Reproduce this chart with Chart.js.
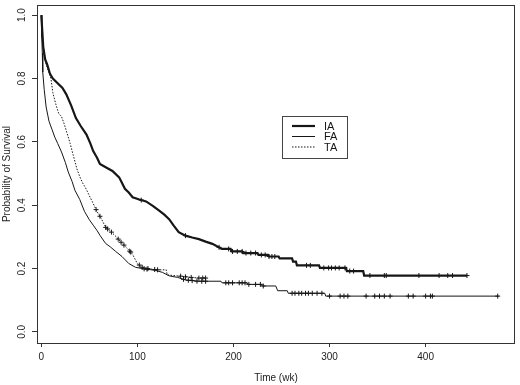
<!DOCTYPE html>
<html>
<head>
<meta charset="utf-8">
<script src="https://cdn.jsdelivr.net/npm/chart.js@4"></script>
<style>
  html, body { margin: 0; padding: 0; background: #fff; }
  canvas { display: block; }
</style>
</head>
<body>
<canvas id="survChart" width="520" height="385"></canvas>
<script>
// Kaplan-Meier curves (time in weeks, survival probability).
// Dense early parts are traced as a polyline; later plateaus are given as flat + drop pairs.
const iaTime = [0, 1, 2, 4, 6, 9, 12, 17, 22, 26, 31, 36, 41, 47, 51, 54, 58, 61, 67, 74, 81, 84, 87, 91, 95, 102, 109, 116, 123, 128, 133, 138, 143, 150, 157, 164, 171, 178, 188, 197, 198, 209, 210, 225, 226, 236, 237, 247, 248, 261, 262, 265, 266, 289, 290, 317, 318, 335, 336, 443];
const iaSurv = [1.0, 0.95, 0.90, 0.86, 0.845, 0.815, 0.80, 0.785, 0.77, 0.75, 0.715, 0.675, 0.65, 0.623, 0.595, 0.571, 0.55, 0.53, 0.52, 0.508, 0.488, 0.47, 0.452, 0.44, 0.425, 0.418, 0.412, 0.398, 0.382, 0.37, 0.356, 0.335, 0.315, 0.304, 0.298, 0.293, 0.285, 0.278, 0.262, 0.262, 0.254, 0.254, 0.249, 0.249, 0.243, 0.243, 0.238, 0.238, 0.232, 0.232, 0.222, 0.222, 0.21, 0.21, 0.202, 0.202, 0.192, 0.192, 0.178, 0.178];
const iaCensorTime = [104, 150, 185, 195, 199, 204, 209, 213, 218, 223, 229, 233, 237, 240, 243, 276, 280, 294, 299, 302, 306, 310, 316, 321, 325, 342, 357, 359, 393, 414, 423, 428, 443];
const iaCensorSurv = [0.416, 0.304, 0.267, 0.262, 0.254, 0.254, 0.254, 0.249, 0.249, 0.249, 0.243, 0.243, 0.238, 0.238, 0.238, 0.21, 0.21, 0.202, 0.202, 0.202, 0.202, 0.202, 0.202, 0.192, 0.192, 0.178, 0.178, 0.178, 0.178, 0.178, 0.178, 0.178, 0.178];

const faTime = [0, 0.5, 1, 1.5, 3, 5, 8, 11, 14, 17, 21, 25, 28, 32, 35, 40, 45, 50, 54, 58, 61, 67, 72, 77, 84, 91, 98, 105, 119, 126, 133, 142, 150, 164, 187, 188, 214, 215, 229, 230, 244, 246, 256, 257, 295, 296, 476];
const faSurv = [1.0, 0.93, 0.88, 0.82, 0.765, 0.71, 0.665, 0.64, 0.615, 0.595, 0.568, 0.535, 0.505, 0.475, 0.447, 0.418, 0.38, 0.354, 0.337, 0.32, 0.305, 0.279, 0.268, 0.255, 0.238, 0.216, 0.204, 0.20, 0.194, 0.188, 0.177, 0.172, 0.164, 0.160, 0.160, 0.155, 0.155, 0.150, 0.150, 0.145, 0.145, 0.13, 0.13, 0.122, 0.122, 0.113, 0.113];
const faCensorTime = [107, 110, 148, 153, 157, 162, 167, 171, 192, 195, 199, 206, 209, 212, 216, 223, 228, 231, 261, 264, 268, 271, 275, 278, 282, 287, 292, 300, 311, 315, 319, 338, 347, 352, 357, 363, 382, 387, 400, 405, 407, 475];
const faCensorSurv = [0.199, 0.198, 0.166, 0.163, 0.162, 0.160, 0.160, 0.160, 0.155, 0.155, 0.155, 0.155, 0.155, 0.155, 0.150, 0.150, 0.150, 0.145, 0.122, 0.122, 0.122, 0.122, 0.122, 0.122, 0.122, 0.122, 0.122, 0.113, 0.113, 0.113, 0.113, 0.113, 0.113, 0.113, 0.113, 0.113, 0.113, 0.113, 0.113, 0.113, 0.113, 0.113];

const taTime = [0, 0.5, 2, 5, 10, 12, 15, 18, 21, 24, 27, 30, 33, 37, 40, 43, 46, 50, 54, 58, 62, 67, 73, 78, 84, 90, 95, 100, 105, 115, 122, 130, 131, 150, 164, 171];
const taSurv = [1.0, 0.95, 0.89, 0.845, 0.80, 0.755, 0.72, 0.69, 0.68, 0.655, 0.625, 0.595, 0.56, 0.515, 0.49, 0.47, 0.455, 0.43, 0.405, 0.38, 0.36, 0.33, 0.315, 0.30, 0.28, 0.262, 0.245, 0.215, 0.204, 0.198, 0.196, 0.196, 0.18, 0.174, 0.17, 0.17];
const taCensorTime = [57, 61, 67, 69, 73, 80, 83, 86, 92, 93, 102, 105, 111, 118, 121, 145, 150, 156, 164, 168, 171];
const taCensorSurv = [0.386, 0.365, 0.33, 0.325, 0.315, 0.293, 0.283, 0.274, 0.255, 0.252, 0.211, 0.204, 0.200, 0.197, 0.196, 0.176, 0.174, 0.172, 0.17, 0.17, 0.17];

const xTicks = [0, 100, 200, 300, 400];
const yTicks = [0.0, 0.2, 0.4, 0.6, 0.8, 1.0];
const groups = ["IA", "FA", "TA"];

const FONT = "'Liberation Sans', Arial, sans-serif";
const INK = "#161616";

const toPoints = (times, surv) => times.map((t, i) => ({ x: t, y: surv[i] }));

const styles = {
  IA: { width: 2.2, dash: [] },
  FA: { width: 1, dash: [] },
  TA: { width: 1, dash: [1.5, 1.5] }
};

function curve(label, times, surv) {
  return {
    label,
    data: toPoints(times, surv),
    borderColor: INK,
    borderWidth: styles[label].width,
    borderDash: styles[label].dash,
    pointRadius: 0,
    tension: 0,
    fill: false
  };
}

function marks(label, times, surv) {
  return {
    label: label + " censored",
    data: toPoints(times, surv),
    showLine: false,
    pointStyle: "cross",
    pointRadius: 2.5,
    borderColor: INK,
    borderWidth: 1
  };
}

const decorPlugin = {
  id: "decor",
  afterDraw(chart) {
    const { ctx, chartArea: a, scales } = chart;
    ctx.save();

    // box round the plot
    ctx.strokeStyle = "#333";
    ctx.lineWidth = 1;
    ctx.strokeRect(a.left + 0.5, a.top + 0.5, a.right - a.left - 1, a.bottom - a.top);

    // rotated y tick labels
    ctx.fillStyle = "#222";
    ctx.font = "10px " + FONT;
    ctx.textAlign = "center";
    ctx.textBaseline = "middle";
    yTicks.forEach(v => {
      const py = scales.y.getPixelForValue(v);
      ctx.save();
      ctx.translate(22, py);
      ctx.rotate(-Math.PI / 2);
      ctx.fillText(v.toFixed(1), 0, 0);
      ctx.restore();
    });

    // axis titles
    ctx.save();
    ctx.translate(7, (a.top + a.bottom) / 2);
    ctx.rotate(-Math.PI / 2);
    ctx.fillText("Probability of Survival", 0, 0);
    ctx.restore();
    ctx.fillText("Time (wk)", (a.left + a.right) / 2, 378);

    // legend box
    ctx.strokeStyle = "#444";
    ctx.strokeRect(282.5, 116.5, 65, 42);
    ctx.font = "11px " + FONT;
    ctx.textAlign = "left";
    groups.forEach((g, i) => {
      const ly = 126 + i * 10.5;
      ctx.beginPath();
      ctx.strokeStyle = INK;
      ctx.lineWidth = styles[g].width;
      ctx.setLineDash(styles[g].dash);
      ctx.moveTo(292, ly);
      ctx.lineTo(315, ly);
      ctx.stroke();
      ctx.setLineDash([]);
      ctx.fillStyle = INK;
      ctx.fillText(g, 324, ly + 0.5);
    });

    ctx.restore();
  }
};

new Chart(document.getElementById("survChart"), {
  type: "line",
  data: {
    datasets: [
      curve("IA", iaTime, iaSurv),
      curve("FA", faTime, faSurv),
      curve("TA", taTime, taSurv),
      marks("IA", iaCensorTime, iaCensorSurv),
      marks("FA", faCensorTime, faCensorSurv),
      marks("TA", taCensorTime, taCensorSurv)
    ]
  },
  options: {
    responsive: false,
    devicePixelRatio: 1,
    animation: false,
    layout: { padding: { top: 3, right: 2, left: 0, bottom: 0 } },
    plugins: {
      legend: { display: false },
      tooltip: { enabled: false }
    },
    scales: {
      x: {
        type: "linear",
        min: -4.5,
        max: 493,
        afterFit: s => { s.height = 42; },
        afterBuildTicks: s => { s.ticks = xTicks.map(v => ({ value: v })); },
        grid: { drawOnChartArea: false, drawTicks: true, tickLength: 4, color: "#333" },
        border: { display: false },
        ticks: {
          color: "#222",
          font: { family: FONT, size: 10 },
          padding: 4,
          maxRotation: 0,
          autoSkip: false
        }
      },
      y: {
        type: "linear",
        min: -0.035,
        max: 1.032,
        afterFit: s => { s.width = 37; },
        afterBuildTicks: s => { s.ticks = yTicks.map(v => ({ value: v })); },
        grid: { drawOnChartArea: false, drawTicks: true, tickLength: 5, color: "#333" },
        border: { display: false },
        ticks: { display: false }
      }
    }
  },
  plugins: [decorPlugin]
});
</script>
</body>
</html>
